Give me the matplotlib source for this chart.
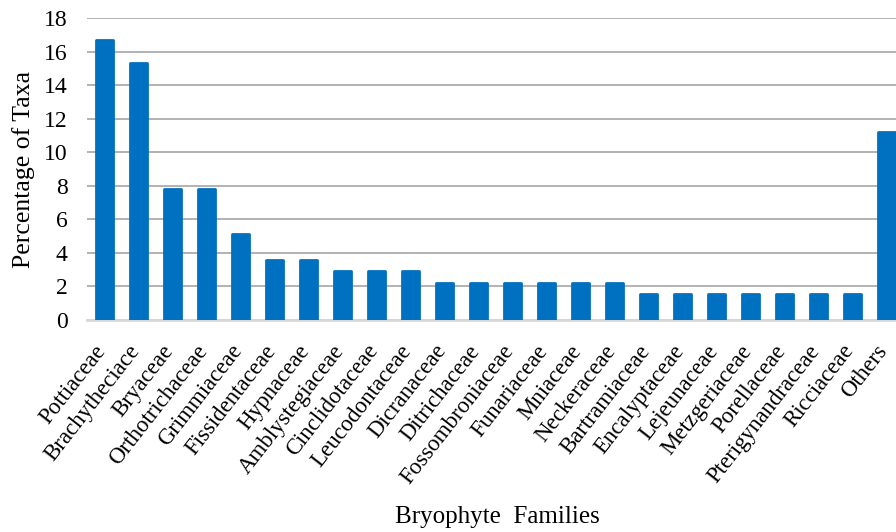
import numpy as np
import matplotlib.pyplot as plt

families = ['Pottiaceae', 'Brachytheciace', 'Bryaceae', 'Orthotrichaceae', 'Grimmiaceae',
            'Fissidentaceae', 'Hypnaceae', 'Amblystegiaceae', 'Cinclidotaceae', 'Leucodontaceae',
            'Dicranaceae', 'Ditrichaceae', 'Fossombroniaceae', 'Funariaceae', 'Mniaceae',
            'Neckeraceae', 'Bartramiaceae', 'Encalyptaceae', 'Lejeunaceae', 'Metzgeriaceae',
            'Porellaceae', 'Pterigynandraceae', 'Ricciaceae', 'Others']
percent = [16.7, 15.3, 7.8, 7.8, 5.1,
           3.6, 3.6, 2.9, 2.9, 2.9,
           2.2, 2.2, 2.2, 2.2, 2.2,
           2.2, 1.55, 1.55, 1.55, 1.55,
           1.55, 1.55, 1.55, 11.2]

plt.rcParams['font.family'] = 'Liberation Serif'

fig = plt.figure(figsize=(8.96, 5.32), dpi=100)
# plot area runs past the right edge, so the last bar is cut off
ax = fig.add_axes([87 / 896, 212 / 532, 816 / 896, 302 / 532])

x = np.arange(len(families))
ax.bar(x, percent, width=0.5, color='#0070C0', edgecolor='#0070C0',
       linewidth=2, joinstyle='round', zorder=3)

ax.set_xlim(-0.5, len(families) - 0.5)
ax.set_ylim(0, 18)
ax.set_yticks(np.arange(0, 19, 2))
ax.yaxis.grid(True, color='#A6A6A6', linewidth=1.2, zorder=0)
ax.set_axisbelow(True)

for s in ['top', 'right', 'left']:
    ax.spines[s].set_visible(False)
ax.spines['bottom'].set_color('#D9D9D9')
ax.spines['bottom'].set_linewidth(2)

ax.tick_params(axis='y', length=0, pad=14, labelsize=17)
ax.tick_params(axis='x', length=0, pad=15)
# labels sit slightly right of the bar centres
ax.set_xticks(x + 0.18)
ax.set_xticklabels(families, rotation=52, ha='right', fontsize=16.5)

ax.set_ylabel('Percentage of Taxa', fontsize=18.5, labelpad=6)
fig.text(0.555, 0.028, 'Bryophyte  Families', fontsize=18, ha='center', va='center')

plt.savefig('out.png', dpi=100)
